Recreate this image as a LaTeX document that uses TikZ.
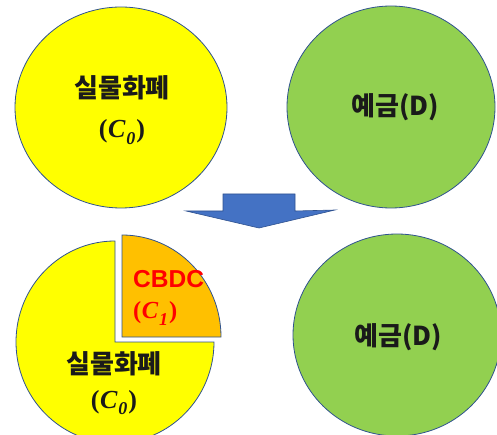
\documentclass[tikz,border=0pt]{standalone}
\usepackage{fontspec}
\setmainfont{Noto Sans CJK KR}
\newfontfamily\serifr{Liberation Serif}
\newfontfamily\latinsans{Liberation Sans}
\newcommand{\varC}[1]{{\serifr\bfseries(\kern0.5pt{\itshape C}\kern1pt\raisebox{-0.25em}{\fontsize{18}{18}\selectfont\itshape #1}\kern1pt)}}
\usetikzlibrary{shapes.geometric}
\definecolor{edgeblue}{HTML}{2F528F}
\definecolor{yel}{HTML}{FFFF00}
\definecolor{grn}{HTML}{92D050}
\definecolor{org}{HTML}{FFC000}
\definecolor{arrblue}{HTML}{4472C4}
\definecolor{cbdcred}{HTML}{FF0000}
\definecolor{txt}{HTML}{1A1A1A}
\tikzset{
  blob/.style={ellipse, draw=edgeblue, line width=0.8pt, inner sep=0pt},
  lbl/.style={font=\fontsize{26}{40}\selectfont\bfseries, text=txt, align=center, inner sep=0pt},
  redlbl/.style={font=\fontsize{24.5}{31}\selectfont\bfseries, text=cbdcred, align=left, inner sep=0pt},
  pieedge/.style={draw=edgeblue, line width=0.8pt}
}
\begin{document}
\begin{tikzpicture}[x=1pt,y=1pt]
\useasboundingbox (0,0) rectangle (497,434);
\clip (0,0) rectangle (497,434);
% top row
\node[blob, fill=yel, minimum width=212pt, minimum height=201pt] (c0top) at (121,326.5) {};
\node[lbl] (c0toptext) at (122,324) {실물화폐\\\varC{0}};
\node[blob, fill=grn, minimum width=208pt, minimum height=202pt] (dtop) at (391,327) {};
\node[lbl] (dtoptext) at (395,327) {예금(D)};
% arrow
\draw[draw=edgeblue, fill=arrblue, line width=0.6pt, line join=miter]
  (223,240) -- (295,240) -- (295,223) -- (335,224) -- (259,206) -- (186,223) -- (223,223) -- cycle;
% bottom row
\coordinate (pc) at (115,92);
\coordinate (oc) at (122,97);
\path[pieedge, fill=yel] (pc) -- ++(0,101) arc[start angle=90, end angle=360, x radius=99, y radius=101] -- cycle;
\path[pieedge, fill=org] (oc) -- ++(99,0) arc[start angle=0, end angle=90, x radius=99, y radius=102] -- cycle;
\node[lbl, align=center] (c0bot) at (114,51) {실물화폐\\[-5pt]\varC{0}};
\node[redlbl, anchor=west] (c1) at (133,136) {{\latinsans\bfseries CBDC}\\\varC{1}};
\node[blob, fill=grn, minimum width=208pt, minimum height=202pt] (dbot) at (397,99) {};
\node[lbl] (dbottext) at (398,97) {예금(D)};
\end{tikzpicture}
\end{document}
